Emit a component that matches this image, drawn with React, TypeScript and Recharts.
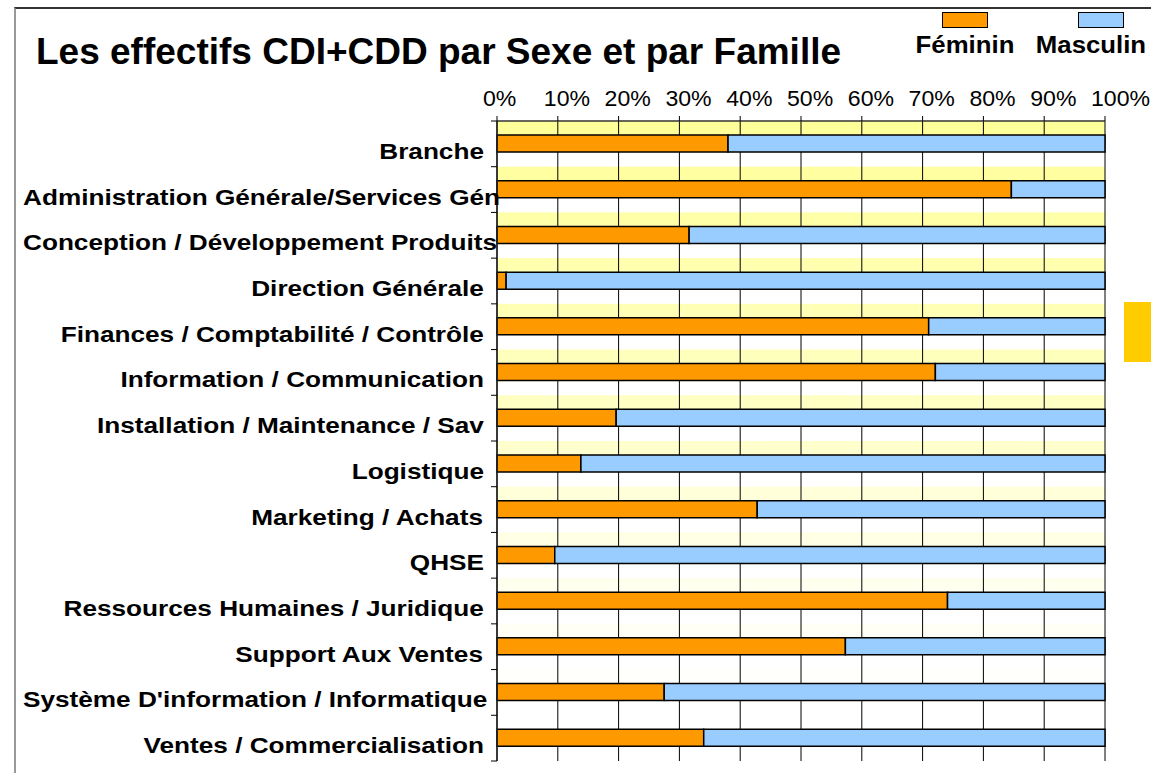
import React from 'react';
import { BarChart, Bar, XAxis, YAxis, CartesianGrid, Legend } from 'recharts';

const categories = [
  'Branche',
  'Administration Générale/Services Gén',
  'Conception / Développement Produits',
  'Direction Générale',
  'Finances / Comptabilité / Contrôle',
  'Information / Communication',
  'Installation / Maintenance / Sav',
  'Logistique',
  'Marketing / Achats',
  'QHSE',
  'Ressources Humaines / Juridique',
  'Support Aux Ventes',
  "Système D'information / Informatique",
  'Ventes / Commercialisation',
];
const feminin = [38.0, 84.6, 31.6, 1.5, 71.0, 72.1, 19.6, 13.8, 42.8, 9.5, 74.1, 57.3, 27.5, 34.0];
const masculin = [62.0, 15.4, 68.4, 98.5, 29.0, 27.9, 80.4, 86.2, 57.2, 90.5, 25.9, 42.7, 72.5, 66.0];
const seriesNames = ['Féminin', 'Masculin'];
const xTicks = [0, 10, 20, 30, 40, 50, 60, 70, 80, 90, 100];
const xTickLabels = ['0%', '10%', '20%', '30%', '40%', '50%', '60%', '70%', '80%', '90%', '100%'];
const title = 'Les effectifs CDI+CDD par Sexe et par Famille';

const data = categories.map((name, i) => ({ name, feminin: feminin[i], masculin: masculin[i] }));

const W = 1151;
const H = 773;
const PLOT_LEFT = 497;
const PLOT_RIGHT = 1105;
const PLOT_TOP = 121;
const PLOT_BOTTOM = 761;
const X_AXIS_H = 30;
const Y_AXIS_W = 480;
const margin = {
  top: PLOT_TOP - X_AXIS_H,
  left: PLOT_LEFT - Y_AXIS_W,
  right: W - PLOT_RIGHT,
  bottom: H - PLOT_BOTTOM,
};
const BAND = (PLOT_BOTTOM - PLOT_TOP) / categories.length;
const FONT = '"Liberation Sans", Arial, Helvetica, sans-serif';

let ctx: CanvasRenderingContext2D | null = null;
function measure(text: string, font: string): number {
  if (!ctx) ctx = document.createElement('canvas').getContext('2d');
  if (!ctx) return text.length * 12;
  ctx.font = font;
  return ctx.measureText(text).width;
}

const CAT_FS = 22;
const CAT_SX = 1.19;

const CatTick = (props: any) => {
  const { x, y, payload, index } = props;
  const w = measure(String(payload.value), `bold ${CAT_FS}px "Liberation Sans"`) * CAT_SX;
  const endX = x - 13;
  const startX = Math.max(23, endX - w);
  return (
    <g>
      {index === 0 && (
        <line x1={x - 6} x2={x} y1={y - BAND / 2} y2={y - BAND / 2} stroke="#000" strokeWidth={1} />
      )}
      <line x1={x - 6} x2={x} y1={y + BAND / 2} y2={y + BAND / 2} stroke="#000" strokeWidth={1} />
      <text
        transform={`translate(${startX},${y + 15}) scale(${CAT_SX},1)`}
        textAnchor="start"
        fontFamily={FONT}
        fontWeight="bold"
        fontSize={CAT_FS}
        fill="#000"
      >
        {payload.value}
      </text>
    </g>
  );
};

const PctTick = (props: any) => {
  const { x, index } = props;
  return (
    <text
      transform={`translate(${x - 14},${PLOT_TOP - 15}) scale(1.05,1)`}
      textAnchor="start"
      fontFamily={FONT}
      fontSize={22}
      fill="#000"
    >
      {xTickLabels[index]}
    </text>
  );
};

const LegendContent = (props: any) => {
  const { payload } = props;
  return (
    <div style={{ position: 'relative', width: 272, height: 50 }}>
      {(payload || []).map((p: any, i: number) => (
        <div key={i} style={{ position: 'absolute', left: i * 136, top: 0, width: 136 }}>
          <div
            style={{
              width: 46,
              height: 16,
              margin: '0 auto',
              background: p.color,
              border: '1.5px solid #000',
              boxSizing: 'border-box',
            }}
          />
          <div
            style={{
              textAlign: 'center',
              fontFamily: FONT,
              fontWeight: 'bold',
              fontSize: 23,
              lineHeight: '23px',
              marginTop: 6,
              transform: `translateX(${i === 1 ? -10 : 0}px) scaleX(1.12)`,
              whiteSpace: 'nowrap',
              color: '#000',
            }}
          >
            {p.value}
          </div>
        </div>
      ))}
    </div>
  );
};

export default function App() {
  return (
    <div style={{ position: 'absolute', left: 0, top: 0, width: W, height: H, background: '#fff', overflow: 'hidden' }}>
      <div
        style={{
          position: 'absolute',
          left: 14,
          top: 7,
          width: W,
          height: H,
          borderTop: '2px solid #333',
          borderLeft: '2px solid #999',
        }}
      />
      <div
        style={{
          position: 'absolute',
          left: 1124,
          top: 302,
          width: 40,
          height: 60,
          background: '#FFCC00',
        }}
      />
      <div style={{ position: 'absolute', left: 0, top: 0 }}>
        <BarChart width={W} height={H} data={data} layout="vertical" margin={margin} barSize={17}>
          <defs>
            <linearGradient id="fadeYellow" x1="0" y1="0" x2="0" y2="1">
              <stop offset="0" stopColor="#FFFF99" />
              <stop offset="0.45" stopColor="#FFFFC4" />
              <stop offset="0.7" stopColor="#FFFFEC" />
              <stop offset="0.9" stopColor="#FFFFFF" />
              <stop offset="1" stopColor="#FFFFFF" />
            </linearGradient>
            <pattern id="whiteStripes" patternUnits="userSpaceOnUse" x={0} y={PLOT_TOP} width={20} height={BAND}>
              <rect x={0} y={BAND * 0.68} width={20} height={BAND * 0.32} fill="#FFFFFF" />
            </pattern>
          </defs>
          <CartesianGrid fill="url(#fadeYellow)" horizontal={false} vertical={false} />
          <CartesianGrid fill="url(#whiteStripes)" horizontal={false} stroke="#000" strokeWidth={1} />
          <XAxis
            type="number"
            domain={[0, 100]}
            ticks={xTicks}
            orientation="top"
            height={X_AXIS_H}
            tickSize={5}
            interval={0}
            axisLine={{ stroke: '#333', strokeWidth: 1.5 }}
            tickLine={{ stroke: '#000' }}
            tick={<PctTick />}
          />
          <YAxis
            type="category"
            dataKey="name"
            width={Y_AXIS_W}
            tickSize={0}
            tickMargin={0}
            tickLine={false}
            interval={0}
            axisLine={{ stroke: '#222', strokeWidth: 1.5 }}
            tick={<CatTick />}
          />
          <Legend
            layout="horizontal"
            verticalAlign="middle"
            align="center"
            content={<LegendContent />}
            wrapperStyle={{ position: 'absolute', left: 897, top: 12, width: 272, height: 50 }}
          />
          <Bar
            dataKey="feminin"
            name={seriesNames[0]}
            stackId="a"
            fill="#FF9900"
            stroke="#000"
            strokeWidth={1.5}
            isAnimationActive={false}
          />
          <Bar
            dataKey="masculin"
            name={seriesNames[1]}
            stackId="a"
            fill="#99CCFF"
            stroke="#000"
            strokeWidth={1.5}
            isAnimationActive={false}
          />
        </BarChart>
      </div>
      <div
        style={{
          position: 'absolute',
          left: 36,
          top: 33,
          fontFamily: FONT,
          fontWeight: 'bold',
          fontSize: 37,
          lineHeight: '37px',
          whiteSpace: 'nowrap',
          color: '#000',
        }}
      >
        {title}
      </div>
    </div>
  );
}
